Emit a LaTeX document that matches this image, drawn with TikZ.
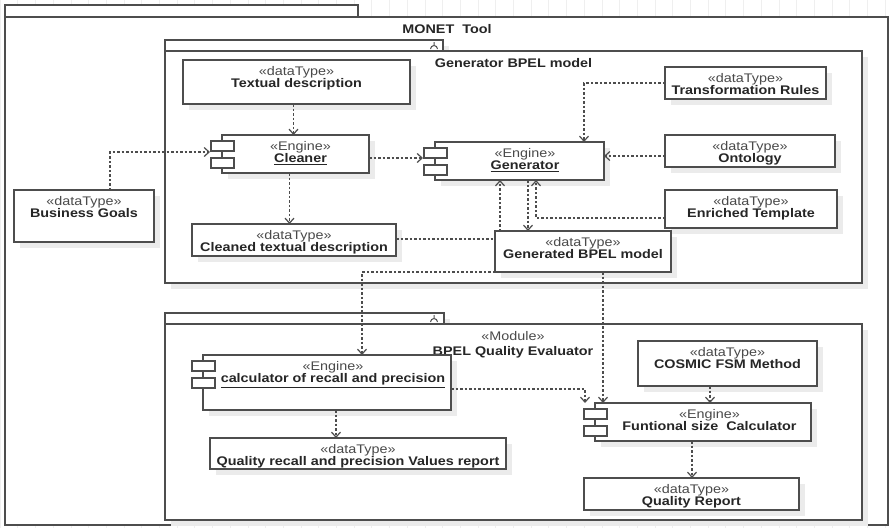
\documentclass[tikz,border=0pt]{standalone}
\usepackage{fontspec}
\setmainfont{Liberation Sans}[FakeStretch=1.15]
\usetikzlibrary{arrows.meta,shadows,calc}

\definecolor{edge}{HTML}{4D4D4D}
\definecolor{ink}{HTML}{262626}
\definecolor{stcol}{HTML}{4A4A4A}
\definecolor{shadowgray}{HTML}{EBEBEB}
\definecolor{gridgray}{HTML}{EFEFEF}

\newcommand\stereo[1]{{\color{stcol}«#1»}}

\begin{document}
\begin{tikzpicture}[x=1pt,y=-1pt,
  every node/.style={font=\fontsize{12.5}{12}\selectfont},
  frame/.style={draw=edge,line width=1.5pt,fill=white,rectangle,inner sep=0pt,outer sep=0pt},
  framesh/.style={frame,drop shadow={shadow xshift=6pt,shadow yshift=-6pt,fill=shadowgray,opacity=1}},
  dbox/.style={draw=edge,line width=1.2pt,fill=white,rectangle,inner sep=0pt,outer sep=0pt,
    drop shadow={shadow xshift=6pt,shadow yshift=-6pt,fill=shadowgray,opacity=1}},
  lbl/.style={align=center,inner sep=0pt,text=ink,anchor=north},
  title/.style={inner sep=0pt,text=ink,font=\fontsize{12.5}{12}\selectfont\bfseries},
  icon/.style={draw=edge,line width=1.1pt,fill=white},
  dline/.style={draw=edge,line width=1.2pt,dash pattern=on 2.5pt off 2pt},
  dep/.style={dline,-{Straight Barb[length=5pt,width=9pt]}},
]
\useasboundingbox (0,0) rectangle (893,528);

% background grid of the editor canvas
\draw[gridgray,line width=0.6pt] (0,0) grid[step=17.7] (893,528);

% ---------- outer tool frame ----------
\node[frame,minimum width=353,minimum height=12] (monettab) at (181.5,11) {};
\node[frame,minimum width=883,minimum height=508] (monet) at (446.5,271) {};
\node[title] (monet-t) at (447,29.5) {MONET~~Tool};

% ---------- generator component frame ----------
\node[framesh,minimum width=278,minimum height=11] (gentab) at (304,45.5) {};
\node[framesh,minimum width=697,minimum height=232] (genframe) at (513.5,167) {};
\draw[edge,line width=1pt] (430.5,49) arc[start angle=180,end angle=360,radius=3.5]
  (434,42) -- (434,45.5);
\node[title] (genframe-t) at (513.5,63) {Generator BPEL model};

% ---------- quality evaluator component frame ----------
\node[framesh,minimum width=279,minimum height=11] (qetab) at (304.5,318.5) {};
\node[framesh,minimum width=697,minimum height=196] (qeframe) at (513.5,422) {};
\draw[edge,line width=1pt] (430.5,322) arc[start angle=180,end angle=360,radius=3.5]
  (434,315) -- (434,318.5);
\node[lbl] (qeframe-t) at (513,331.5) {\stereo{Module}\\[3pt]\textbf{BPEL Quality Evaluator}};

% ---------- data types and engines ----------
\node[dbox,minimum width=227,minimum height=44] (textdesc) at (296.5,82) {};
\node[dbox,minimum width=161,minimum height=32] (trules) at (745.5,83) {};
\node[dbox,minimum width=147,minimum height=38] (cleaner) at (295.5,154) {};
\node[dbox,minimum width=169,minimum height=38] (generator) at (519.5,161) {};
\node[dbox,minimum width=170,minimum height=32] (ontology) at (750,151) {};
\node[dbox,minimum width=172,minimum height=38] (enriched) at (751,209) {};
\node[dbox,minimum width=204,minimum height=32] (cleaned) at (294,240) {};
\node[dbox,minimum width=140,minimum height=52] (bgoals) at (84,216) {};
\node[dbox,minimum width=176,minimum height=41] (genbpel) at (583,251.5) {};
\node[dbox,minimum width=248,minimum height=55] (calc) at (327,382.5) {};
\node[dbox,minimum width=296,minimum height=31] (qrecall) at (358,453.5) {};
\node[dbox,minimum width=179,minimum height=45] (cosmic) at (727.5,363.5) {};
\node[dbox,minimum width=216,minimum height=38] (funcalc) at (703,422) {};
\node[dbox,minimum width=215,minimum height=32] (qreport) at (691.5,494) {};

% component icons on the engines
\foreach \n in {cleaner,generator,calc,funcalc}{
  \draw[icon] ($(\n.north west)+(-11,6)$) rectangle ++(23,10);
  \draw[icon] ($(\n.north west)+(-11,23)$) rectangle ++(23,10);
}

% ---------- texts ----------
\tikzset{txtpos/.style={yshift=-6.5pt}}
\node[lbl] (textdesc-t) at ([txtpos]textdesc.north) {\stereo{dataType}\\\textbf{Textual description}};
\node[lbl] (trules-t) at ([txtpos]trules.north) {\stereo{dataType}\\\textbf{Transformation Rules}};
\node[lbl] (cleaner-t) at ([xshift=5pt,txtpos]cleaner.north) {\stereo{Engine}\\\underline{\textbf{Cleaner}}};
\node[lbl] (generator-t) at ([xshift=5.5pt,txtpos]generator.north) {\stereo{Engine}\\\underline{\textbf{Generator}}};
\node[lbl] (ontology-t) at ([txtpos]ontology.north) {\stereo{dataType}\\\textbf{Ontology}};
\node[lbl] (enriched-t) at ([txtpos]enriched.north) {\stereo{dataType}\\\textbf{Enriched Template}};
\node[lbl] (cleaned-t) at ([txtpos]cleaned.north) {\stereo{dataType}\\\textbf{Cleaned textual description}};
\node[lbl] (bgoals-t) at ([txtpos]bgoals.north) {\stereo{dataType}\\\textbf{Business Goals}};
\node[lbl] (genbpel-t) at ([txtpos]genbpel.north) {\stereo{dataType}\\\textbf{Generated BPEL model}};
\node[lbl] (calc-t) at ([xshift=6pt,txtpos]calc.north) {\stereo{Engine}\\\underline{\textbf{calculator of recall and precision}}};
\node[lbl] (qrecall-t) at ([txtpos]qrecall.north) {\stereo{dataType}\\\textbf{Quality recall and precision Values report}};
\node[lbl] (cosmic-t) at ([txtpos]cosmic.north) {\stereo{dataType}\\\textbf{COSMIC FSM Method}};
\node[lbl] (funcalc-t) at ([xshift=6.5pt,txtpos]funcalc.north) {\stereo{Engine}\\\textbf{Funtional size~~Calculator}};
\node[lbl] (qreport-t) at ([txtpos]qreport.north) {\stereo{dataType}\\\textbf{Quality Report}};

% ---------- dependencies ----------
\draw[dep] ([xshift=-3pt]textdesc.south) -- ([xshift=-3pt]textdesc.south |- cleaner.north);
\draw[dep] ([xshift=26pt]bgoals.north) |- ([xshift=-12pt,yshift=2pt]cleaner.west);
\draw[dep] ([yshift=-4pt]cleaner.east) -- ([xshift=-12pt,yshift=-4pt]cleaner.east -| generator.west);
\draw[dep] ([xshift=-6pt]cleaner.south) -- ([xshift=-6pt]cleaner.south |- cleaned.north);
\draw[dep] (trules.west) -| ([xshift=64.5pt]generator.north);
\draw[dep] ([yshift=-5pt]ontology.west) -- ([yshift=-5pt]ontology.west -| generator.east);
\draw[dep] ([yshift=-9pt]enriched.west) -| ([xshift=16.5pt]generator.south);
\draw[dep] ([xshift=8.5pt]generator.south) -- ([xshift=8.5pt]generator.south |- genbpel.north);
\draw[dline] ([yshift=1pt]cleaned.east) -- ([yshift=1pt]cleaned.east -| genbpel.west);
\draw[dep] ([xshift=-83pt]genbpel.north) -- ([xshift=-83pt]genbpel.north |- generator.south);
\draw[dep] (genbpel.south west) -| ([xshift=35pt]calc.north);
\draw[dep] ([xshift=20pt]genbpel.south) -- ([xshift=20pt]genbpel.south |- funcalc.north);
\draw[dep] ([yshift=-6.5pt]calc.east) -| ([xshift=-118pt]funcalc.north);
\draw[dep] ([xshift=9pt]calc.south) -- ([xshift=9pt]calc.south |- qrecall.north);
\draw[dep] ([xshift=-17.5pt]cosmic.south) -- ([xshift=-17.5pt]cosmic.south |- funcalc.north);
\draw[dep] ([xshift=-11pt]funcalc.south) -- ([xshift=-11pt]funcalc.south |- qreport.north);
\end{tikzpicture}
\end{document}
